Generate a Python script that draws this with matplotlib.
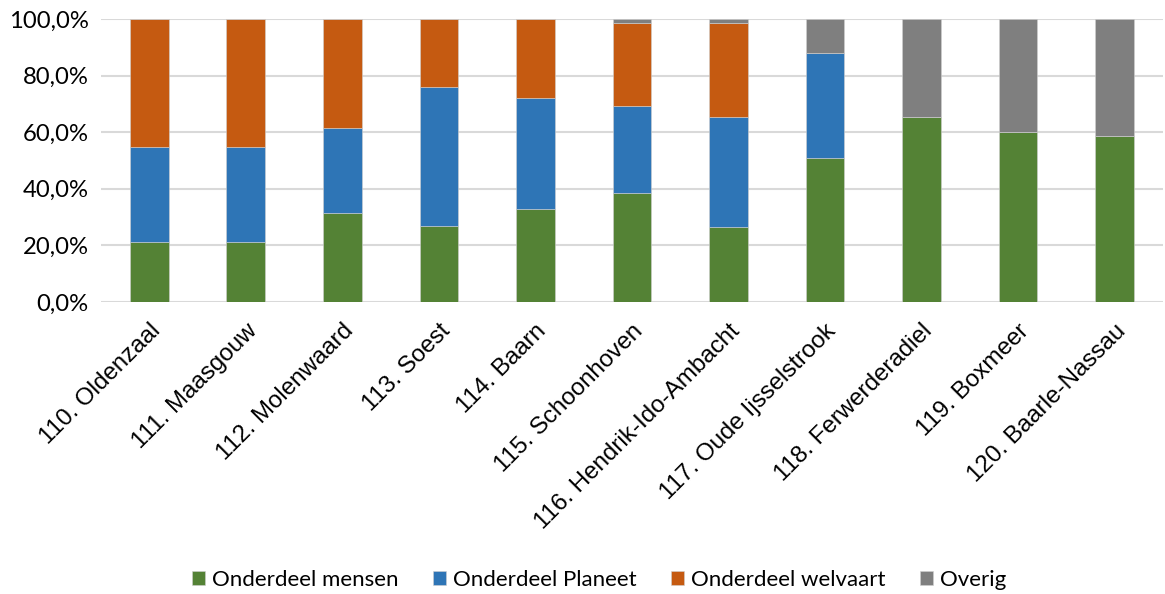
import numpy as np
import matplotlib.pyplot as plt
from matplotlib.ticker import FuncFormatter

gemeenten = ["110. Oldenzaal", "111. Maasgouw", "112. Molenwaard", "113. Soest",
             "114. Baarn", "115. Schoonhoven", "116. Hendrik-Ido-Ambacht",
             "117. Oude Ijsselstrook", "118. Ferwerderadiel", "119. Boxmeer",
             "120. Baarle-Nassau"]

# aandelen in procenten
mensen   = [21.1, 21.1, 31.3, 26.9, 32.9, 38.6, 26.6, 50.7, 65.2, 59.9, 58.7]
planeet  = [33.5, 33.5, 30.1, 49.1, 39.0, 30.7, 38.8, 37.3, 0.0, 0.0, 0.0]
welvaart = [45.4, 45.4, 38.6, 24.0, 28.1, 29.4, 33.3, 0.0, 0.0, 0.0, 0.0]
overig   = [0.0, 0.0, 0.0, 0.0, 0.0, 1.3, 1.3, 12.0, 34.8, 40.1, 41.3]

reeksen = ["Onderdeel mensen", "Onderdeel Planeet", "Onderdeel welvaart", "Overig"]
kleuren = ["#548235", "#2E75B6", "#C55A11", "#7F7F7F"]

fig = plt.figure(figsize=(11.65, 5.94), dpi=100)
ax = fig.add_axes([0.0867, 0.4916, 0.9113, 0.4765])

x = np.arange(len(gemeenten))
bottom = np.zeros(len(gemeenten))
for vals, label, kleur in zip([mensen, planeet, welvaart, overig], reeksen, kleuren):
    vals = np.array(vals)
    ax.bar(x, vals, 0.4, bottom=bottom, color=kleur, label=label,
           edgecolor="#d0d0d0", linewidth=0.4, zorder=3)
    bottom += vals

ax.set_xlim(-0.5, len(gemeenten) - 0.5)
ax.set_ylim(0, 100)
ax.set_yticks(np.arange(0, 101, 20))
ax.yaxis.set_major_formatter(FuncFormatter(lambda v, p: f"{v:.1f}%".replace(".", ",")))
ax.grid(axis="y", color="#D9D9D9", linewidth=1.5, zorder=0)
for s in ax.spines.values():
    s.set_visible(False)
ax.tick_params(axis="both", length=0)
ax.tick_params(axis="y", pad=9)
for lbl in ax.get_yticklabels():
    lbl.set_fontfamily("Lato")
    lbl.set_fontsize(17.2)

ax.set_xticks(x)
ax.set_xticklabels(gemeenten, rotation=45, ha="right", rotation_mode="anchor",
                   fontfamily="Liberation Sans", fontsize=17.4)
ax.tick_params(axis="x", pad=13)

ax.legend(loc="center", bbox_to_anchor=(0.514, 0.024), bbox_transform=fig.transFigure,
          ncol=4, frameon=False, prop={"family": "Lato", "size": 16},
          handlelength=0.6, handleheight=0.6, handletextpad=0.3, columnspacing=1.55)

fig.savefig("out.png", dpi=100)
